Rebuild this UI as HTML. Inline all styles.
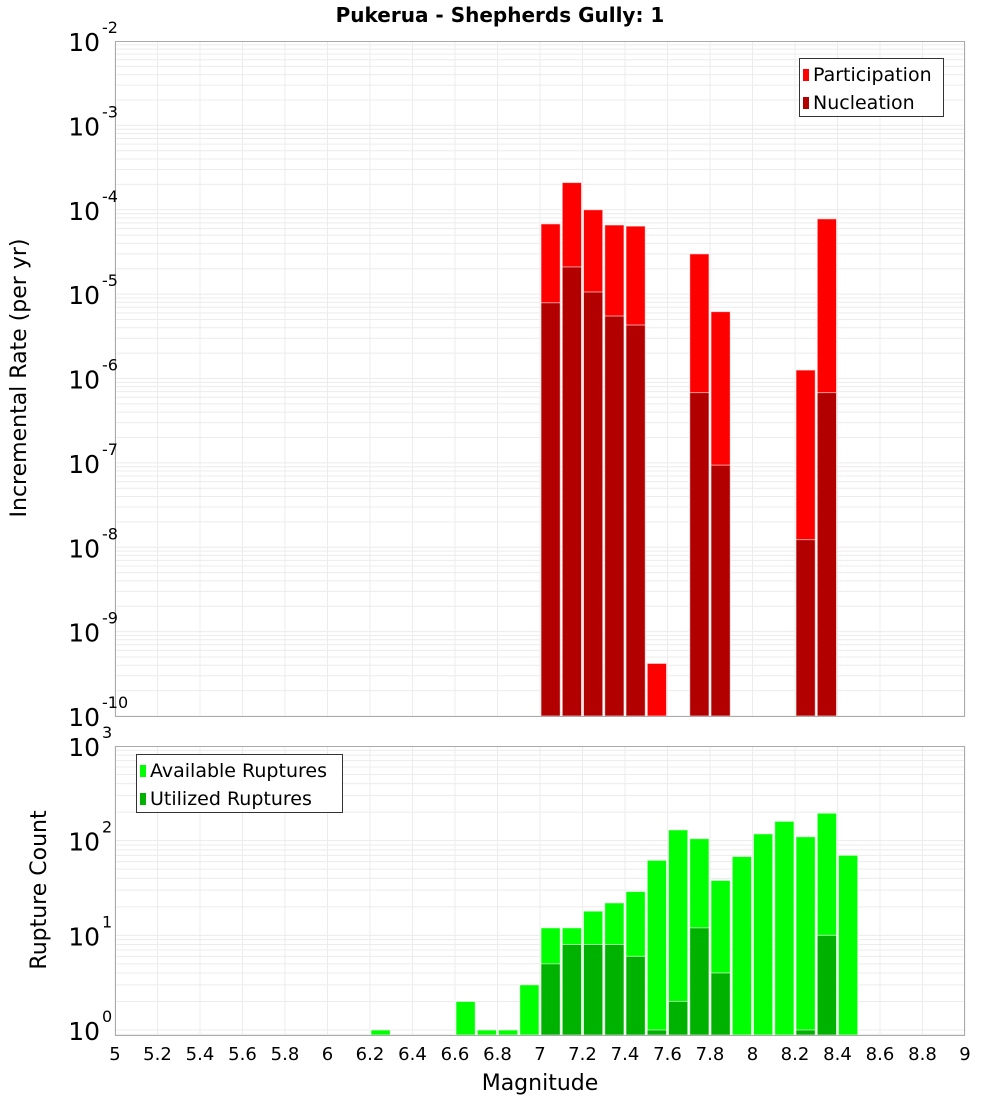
<!DOCTYPE html>
<html><head><meta charset="utf-8"><style>
body{margin:0;background:#fff;}
svg{display:block;font-family:"DejaVu Sans","Liberation Sans",sans-serif;}
</style></head><body>
<svg id="c" width="1000" height="1100" xmlns="http://www.w3.org/2000/svg"></svg>
<script>
const topMags = [7.05,7.15,7.25,7.35,7.45,7.55,7.75,7.85,8.25,8.35];
const participation = [6.8e-5,2.1e-4,1.0e-4,6.6e-5,6.4e-5,4.2e-10,3.0e-5,6.2e-6,1.26e-6,7.8e-5];
const nucleation = [7.9e-6,2.1e-5,1.06e-5,5.5e-6,4.3e-6,0,6.8e-7,9.4e-8,1.23e-8,6.8e-7];
const botMags = [6.25,6.65,6.75,6.85,6.95,7.05,7.15,7.25,7.35,7.45,7.55,7.65,7.75,7.85,7.95,8.05,8.15,8.25,8.35,8.45];
const available = [1,2,1,1,3,12,12,18,22,29,62,130,105,38,68,118,160,110,195,70];
const utilized = [0,0,0,0,0,5,8,8,8,6,1,2,12,4,0,0,0,1,10,0];
const xTicks = [5,5.2,5.4,5.6,5.8,6,6.2,6.4,6.6,6.8,7,7.2,7.4,7.6,7.8,8,8.2,8.4,8.6,8.8,9];

const NS="http://www.w3.org/2000/svg";
const svg=document.getElementById('c');
function el(t,a,p){const e=document.createElementNS(NS,t);for(const k in a)e.setAttribute(k,a[k]);(p||svg).appendChild(e);return e;}
const X0=115,X1=965;
const x=m=>X0+(m-5)/4*(X1-X0);
const T={top:41,bot:716,lo:-10,hi:-2};
const B={top:746,bot:1035,lo:-0.053,hi:3.0};
const yT=v=>T.bot-(Math.log10(v)-T.lo)/(T.hi-T.lo)*(T.bot-T.top);
const yB=v=>B.bot-(Math.log10(v)-B.lo)/(B.hi-B.lo)*(B.bot-B.top);

function panel(P,yf,decLo,decHi,name){
  const g=el('g',{});
  
  
  for(let d=decLo;d<decHi;d++){for(let k=1;k<10;k++){const v=k*Math.pow(10,d);const yy=yf(v);if(yy<P.top||yy>P.bot)continue;
    el('line',{x1:X0,x2:X1,y1:yy,y2:yy,stroke:'#ececec','stroke-width':1},g);}}
  xTicks.forEach(t=>{el('line',{x1:x(t),x2:x(t),y1:P.top,y2:P.bot,stroke:'#ececec','stroke-width':1},g);});
}
function frame(P,name){const r=el('rect',{x:X0+0.5,y:P.top+0.5,width:X1-X0-1,height:P.bot-P.top,fill:'none',stroke:'#aaa','stroke-width':1});
  }
function bars(mags,vals,yf,P,col,name){
  mags.forEach((m,i)=>{const v=vals[i];if(!(v>0))return;const yy=Math.max(P.top,yf(v));
    const r=el('rect',{x:x(m-0.05)+1,y:yy,width:x(m+0.05)-x(m-0.05)-2,height:P.bot-yy,fill:col,stroke:'#fff','stroke-opacity':0.6,'stroke-width':1});
    });
}
function ylabels(P,yf,decs,name){
  decs.forEach(d=>{const yy=yf(Math.pow(10,d));
    const t=el('text',{x:100,y:yy+10,'text-anchor':'end','font-size':25,fill:'#000'});
    
    t.textContent='10';
    const s=el('text',{x:102,y:yy-8,'font-size':16,fill:'#000'});
    
    s.textContent=String(d);});
}
function legend(bx,by,w,items,name){
  const g=el('g',{});
  el('rect',{x:bx+0.5,y:by+0.5,width:w,height:58,fill:'#fff',stroke:'#333','stroke-width':1},g);
  items.forEach((it,i)=>{const yy=by+15+i*28;
    const r=el('rect',{x:bx+4,y:yy-4,width:6,height:12,fill:it[1]},g);
    
    const t=el('text',{x:bx+14,y:yy+8,'font-size':19,fill:'#000'},g);
    t.textContent=it[0];});
}

panel(T,yT,-10,-2,'top');
panel(B,yB,-1,3,'bottom');
bars(topMags,participation,yT,T,'#ff0000','participation');
bars(topMags,nucleation,yT,T,'#b20000','nucleation');
bars(botMags,available,yB,B,'#00ff00','available');
bars(botMags,utilized,yB,B,'#00b200','utilized');
frame(T,'top');frame(B,'bottom');
ylabels(T,yT,[-2,-3,-4,-5,-6,-7,-8,-9,-10],'top');
ylabels(B,yB,[0,1,2,3],'bottom');
legend(799,58,144,[['Participation','#ff0000'],['Nucleation','#b20000']],'top-legend');
legend(136,754,206,[['Available Ruptures','#00ff00'],['Utilized Ruptures','#00b200']],'bottom-legend');
xTicks.forEach(t=>{const tx=el('text',{x:x(t),y:1060,'text-anchor':'middle','font-size':18,fill:'#000'});
  
  tx.textContent=String(t);});
let t=el('text',{x:540,y:1090,'text-anchor':'middle','font-size':22,fill:'#000'});
t.textContent='Magnitude';
t=el('text',{x:500,y:22,'text-anchor':'middle','font-size':20,'font-weight':'bold',fill:'#000'});
t.textContent='Pukerua - Shepherds Gully: 1';
t=el('text',{x:0,y:0,'text-anchor':'middle','font-size':22,fill:'#000',transform:'translate(26,378) rotate(-90)'});
t.textContent='Incremental Rate (per yr)';
t=el('text',{x:0,y:0,'text-anchor':'middle','font-size':22,fill:'#000',transform:'translate(46,890) rotate(-90)'});
t.textContent='Rupture Count';
</script>
</body></html>
